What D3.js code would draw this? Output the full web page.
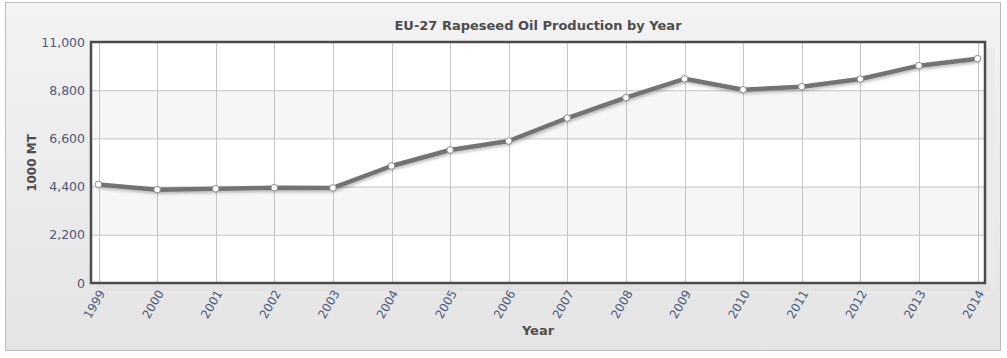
<!DOCTYPE html>
<html><head><meta charset="utf-8">
<script src="https://cdn.jsdelivr.net/npm/d3@7"></script>
<style>body{margin:0;background:#fff}svg{display:block}</style>
</head><body>
<svg id="c" width="1007" height="358"></svg>
<script>
const years = ["1999","2000","2001","2002","2003","2004","2005","2006","2007","2008","2009","2010","2011","2012","2013","2014"];
const production = [4500,4260,4300,4350,4340,5340,6070,6480,7530,8460,9320,8820,8960,9310,9920,10240];
const yTicks = [0,2200,4400,6600,8800,11000];
const title = "EU-27 Rapeseed Oil Production by Year";
const xTitle = "Year";
const yTitle = "1000 MT";

const svg = d3.select("#c");
const defs = svg.append("defs");
const g1 = defs.append("linearGradient").attr("id","bg").attr("x1",0).attr("y1",0).attr("x2",0).attr("y2",1);
g1.append("stop").attr("offset","0%").attr("stop-color","#f3f3f3");
g1.append("stop").attr("offset","100%").attr("stop-color","#e4e4e4");
const f = defs.append("filter").attr("id","sh").attr("x","-5%").attr("y","-20%").attr("width","110%").attr("height","140%");
f.append("feGaussianBlur").attr("in","SourceAlpha").attr("stdDeviation",1.5).attr("result","b");
f.append("feOffset").attr("in","b").attr("dx",1).attr("dy",2).attr("result","o");
f.append("feComponentTransfer").attr("in","o").attr("result","o2").append("feFuncA").attr("type","linear").attr("slope",0.25);
const m = f.append("feMerge"); m.append("feMergeNode").attr("in","o2"); m.append("feMergeNode").attr("in","SourceGraphic");

svg.append("rect").attr("x",5.5).attr("y",2.5).attr("width",995).attr("height",348)
  .attr("fill","url(#bg)").attr("stroke","#bdbdbd").attr("stroke-width",1);

const L=91, R=985, T=42, B=283;
const x = d3.scalePoint().domain(years).range([L+7.5, R-7.5]);
const y = d3.scaleLinear().domain([0,11000]).range([B,T]);

// shadow to right of plot
svg.append("rect").attr("x",R).attr("y",T+6).attr("width",10).attr("height",B-T).attr("fill","#ebebeb");
svg.append("rect").attr("x",L+6).attr("y",B).attr("width",R-L).attr("height",8).attr("fill","#dcdcdc").attr("opacity",0.5);

// bands
for (let i=0;i<yTicks.length-1;i++){
  svg.append("rect").attr("x",L).attr("width",R-L)
    .attr("y",y(yTicks[i+1])).attr("height",y(yTicks[i])-y(yTicks[i+1]))
    .attr("fill", i%2===1 ? "#f6f6f6" : "#ffffff");
}
// grid
svg.append("g").selectAll("line").data(yTicks).join("line")
  .attr("x1",L).attr("x2",R).attr("y1",d=>y(d)+0.5).attr("y2",d=>y(d)+0.5)
  .attr("stroke","#c4c4c4").attr("stroke-width",1);
svg.append("g").selectAll("line").data(years).join("line")
  .attr("x1",d=>Math.round(x(d))+0.5).attr("x2",d=>Math.round(x(d))+0.5).attr("y1",T).attr("y2",B)
  .attr("stroke","#c4c4c4").attr("stroke-width",1);

// border
svg.append("rect").attr("x",L).attr("y",T).attr("width",R-L).attr("height",B-T)
  .attr("fill","none").attr("stroke","#4b4b4b").attr("stroke-width",2.5);

// line
const line = d3.line().x((d,i)=>x(years[i])).y(d=>y(d));
svg.append("path").datum(production).attr("d",line).attr("fill","none")
  .attr("stroke","#737373").attr("stroke-width",4.5).attr("stroke-linejoin","round").attr("filter","url(#sh)");
svg.append("g").selectAll("circle").data(production).join("circle")
  .attr("cx",(d,i)=>x(years[i])).attr("cy",d=>y(d)).attr("r",3.3)
  .attr("fill","#fff").attr("stroke","#8a8a8a").attr("stroke-width",1);

// y axis labels
const yAxis = d3.axisLeft(y).tickValues(yTicks).tickFormat(d3.format(",")).tickSize(0).tickPadding(6);
const ya = svg.append("g").attr("transform",`translate(${L},0)`).call(yAxis);
ya.select(".domain").remove();
ya.selectAll("text").attr("font-family","Verdana, 'DejaVu Sans', sans-serif").attr("font-size",12.5).attr("fill","#4c5a7a");

// x axis labels
const xAxis = d3.axisBottom(x).tickSize(0).tickPadding(0);
const xa = svg.append("g").attr("transform",`translate(0,${B})`).call(xAxis);
xa.select(".domain").remove();
xa.selectAll("text").attr("font-family","Verdana, 'DejaVu Sans', sans-serif").attr("font-size",12).attr("fill","#4c5a7a")
  .attr("text-anchor","end").attr("dy","0.35em")
  .attr("transform","translate(3,8) rotate(-60)");

svg.append("text").attr("x",(L+R)/2+0).attr("y",30).attr("text-anchor","middle")
  .attr("font-family","Verdana, 'DejaVu Sans', sans-serif").attr("font-size",13).attr("font-weight","bold").attr("fill","#4d4d4d")
  .text(title);
svg.append("text").attr("x",538).attr("y",335).attr("text-anchor","middle")
  .attr("font-family","Verdana, 'DejaVu Sans', sans-serif").attr("font-size",13).attr("font-weight","bold").attr("fill","#4d4d4d")
  .text(xTitle);
svg.append("text").attr("transform","translate(36,163) rotate(-90)").attr("text-anchor","middle")
  .attr("font-family","Verdana, 'DejaVu Sans', sans-serif").attr("font-size",12).attr("font-weight","bold").attr("fill","#4d4d4d")
  .text(yTitle);
</script>
</body></html>
